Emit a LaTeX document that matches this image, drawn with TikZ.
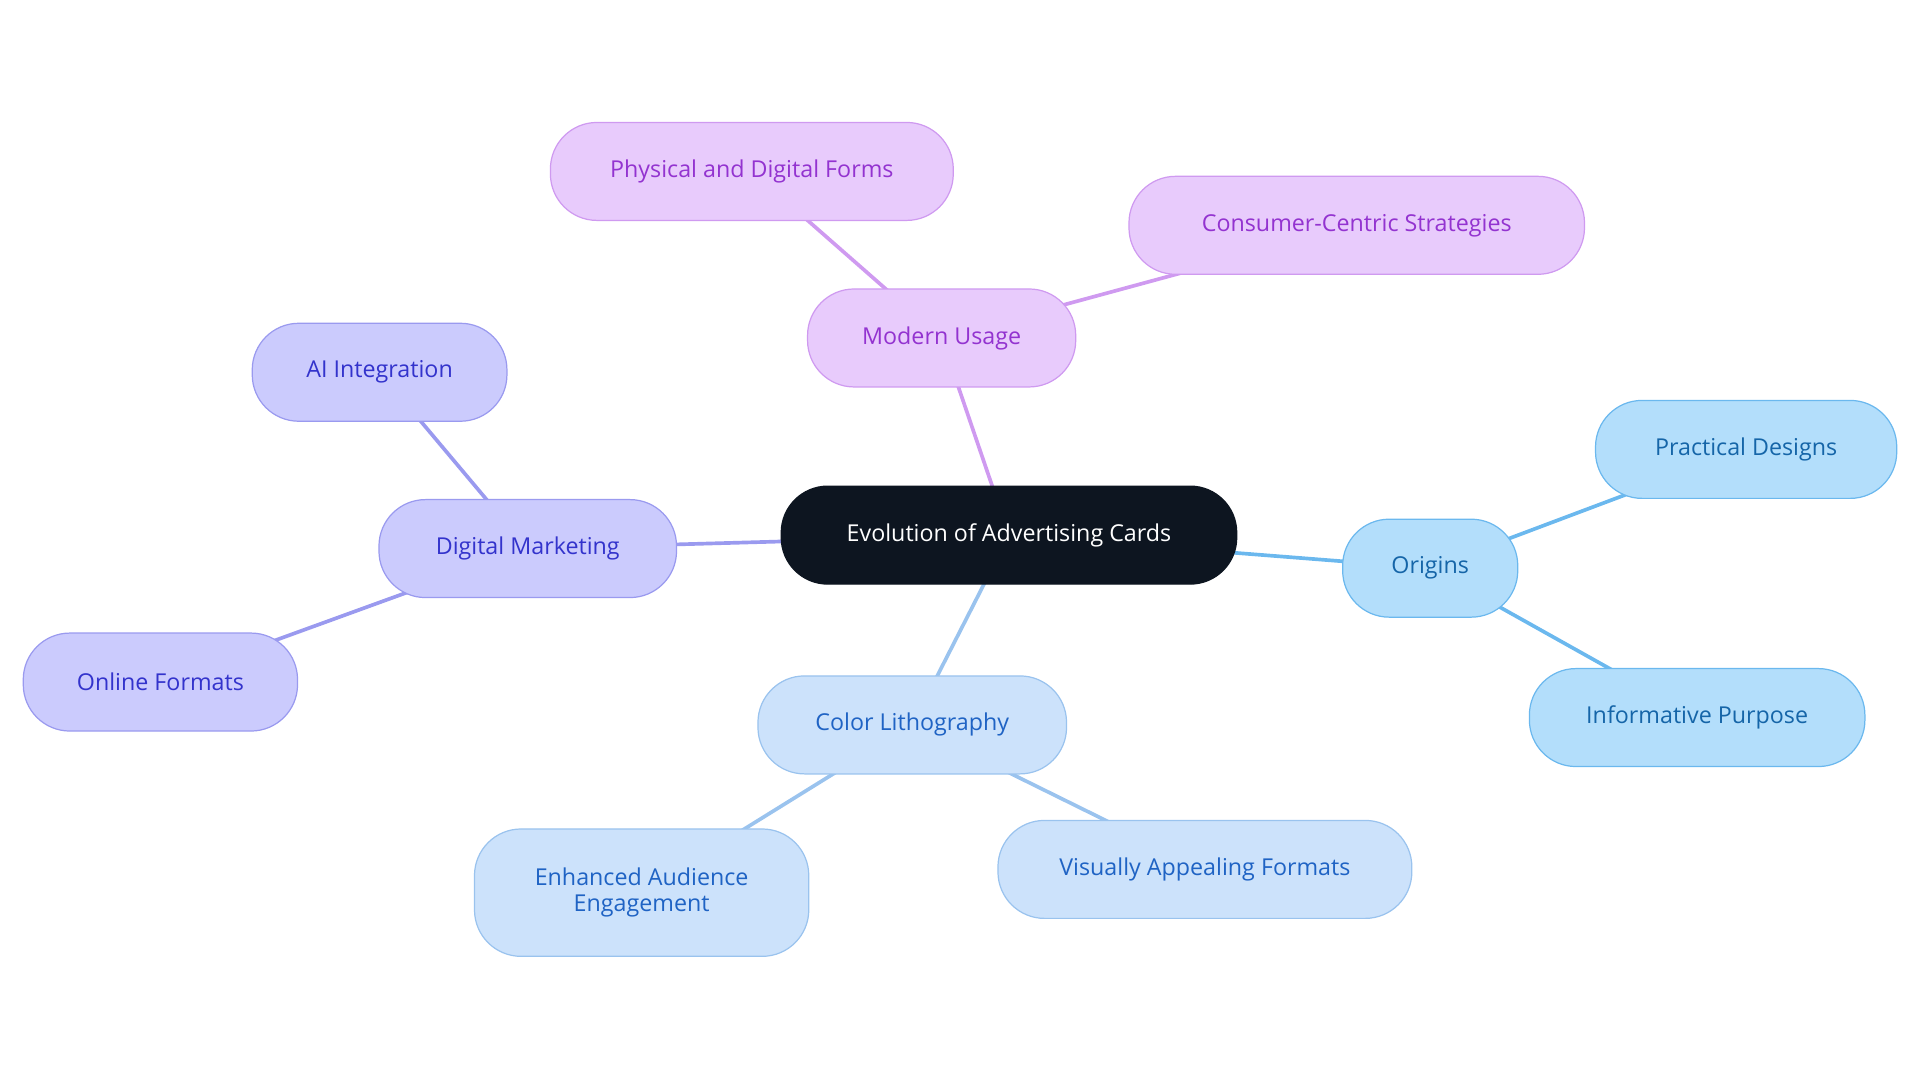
\documentclass[tikz,border=0pt]{standalone}
\usepackage{fontspec}
\setmainfont{Open Sans}
\usetikzlibrary{backgrounds}
\definecolor{rootf}{HTML}{0D1520}
\definecolor{of}{HTML}{B3DEFB}\definecolor{ob}{HTML}{6BB8EE}\definecolor{ot}{HTML}{1565A8}
\definecolor{cf}{HTML}{CCE2FB}\definecolor{cb}{HTML}{9AC3EE}\definecolor{ct}{HTML}{1F63C4}
\definecolor{df}{HTML}{CBCBFD}\definecolor{db}{HTML}{9A9AEF}\definecolor{dt}{HTML}{3333CC}
\definecolor{mf}{HTML}{E8CBFC}\definecolor{mb}{HTML}{CF9AF0}\definecolor{mt}{HTML}{9333D0}
\begin{document}
\begin{tikzpicture}[x=1pt,y=-1pt,
 box/.style={rounded corners=38pt,minimum height=80pt,inner sep=0pt,align=center,font=\fontsize{19}{24}\selectfont,line width=1pt},
 O/.style={box,fill=of,draw=ob,text=ot},
 C/.style={box,fill=cf,draw=cb,text=ct},
 D/.style={box,fill=df,draw=db,text=dt},
 M/.style={box,fill=mf,draw=mb,text=mt},
 e/.style={line width=3pt}]
\useasboundingbox (0,0) rectangle (1568,884);
\node[box,fill=rootf,draw=rootf,text=white,minimum width=372pt] (root) at (824,437) {Evolution of Advertising Cards};
\node[O,minimum width=143pt] (or) at (1168,464) {Origins};
\node[O,minimum width=246pt] (pd) at (1426,367) {Practical Designs};
\node[O,minimum width=274pt] (ip) at (1386,586) {Informative Purpose};
\node[C,minimum width=252pt] (cl) at (745,592) {Color Lithography};
\node[C,minimum width=273pt,minimum height=104pt] (ea) at (524,729) {Enhanced Audience\\[-3pt]Engagement};
\node[C,minimum width=338pt] (va) at (984,710) {Visually Appealing Formats};
\node[D,minimum width=243pt] (dm) at (431,448) {Digital Marketing};
\node[D,minimum width=208pt] (ai) at (310,304) {AI Integration};
\node[D,minimum width=224pt] (of) at (131,557) {Online Formats};
\node[M,minimum width=219pt] (mu) at (769,276) {Modern Usage};
\node[M,minimum width=329pt] (pf) at (614,140) {Physical and Digital Forms};
\node[M,minimum width=372pt] (cc) at (1108,184) {Consumer-Centric Strategies};
\begin{scope}[on background layer]
\draw[e,ob] (root.center) -- (or.center) (or.center) -- (pd.center) (or.center) -- (ip.center);
\draw[e,cb] (root.center) -- (cl.center) (cl.center) -- (ea.center) (cl.center) -- (va.center);
\draw[e,db] (root.center) -- (dm.center) (dm.center) -- (ai.center) (dm.center) -- (of.center);
\draw[e,mb] (root.center) -- (mu.center) (mu.center) -- (pf.center) (mu.center) -- (cc.center);
\end{scope}
\end{tikzpicture}
\end{document}
